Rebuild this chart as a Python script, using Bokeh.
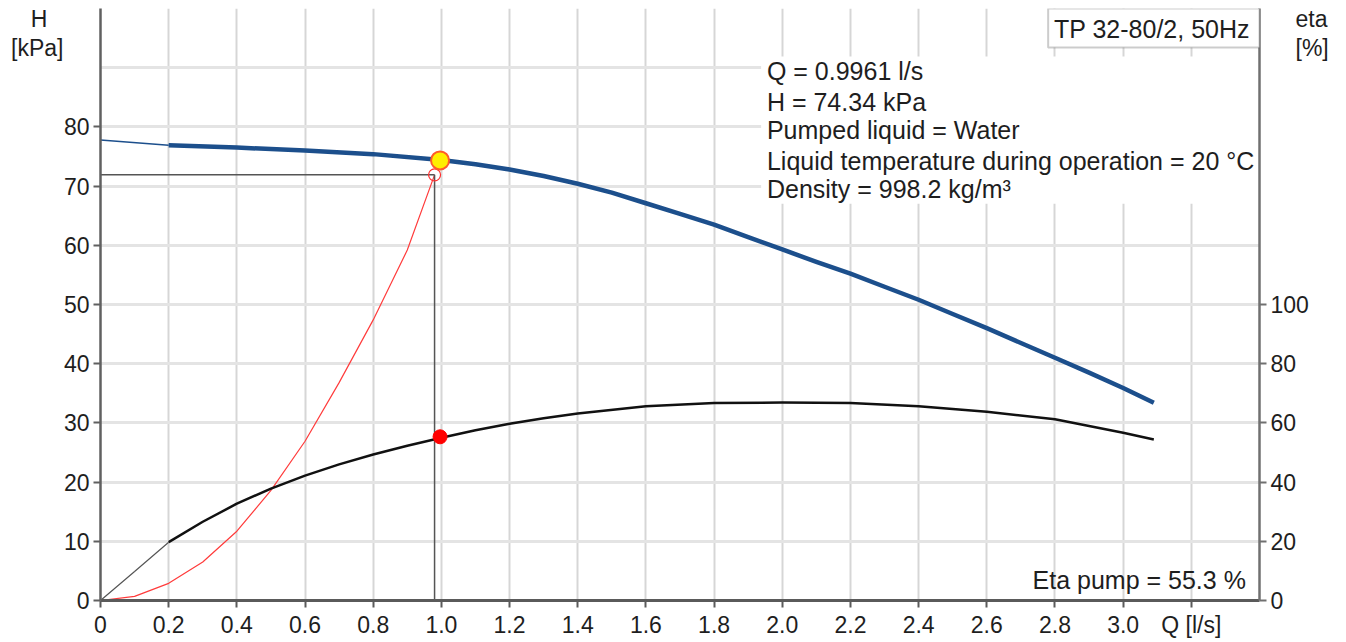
from bokeh.plotting import figure
from bokeh.models import (Range1d, LinearAxis, FixedTicker, Label, BoxAnnotation,
                          CustomJSTickFormatter)
from bokeh.embed import file_html
from bokeh.resources import INLINE

# ---------------- data ----------------
q_head = [0.0, 0.2, 0.4, 0.6, 0.8, 1.0, 1.1, 1.2, 1.3, 1.4, 1.5, 1.6, 1.7, 1.8, 1.9, 2.0,
          2.1, 2.2, 2.3, 2.4, 2.5, 2.6, 2.7, 2.8, 2.9, 3.0, 3.09]
h_head = [77.8, 76.9, 76.5, 76.0, 75.4, 74.4, 73.7, 72.8, 71.7, 70.4, 68.9, 67.1, 65.3, 63.5,
          61.4, 59.3, 57.2, 55.2, 53.0, 50.8, 48.4, 46.0, 43.5, 41.0, 38.5, 35.9, 33.4]

q_eta = [0.0, 0.1, 0.2, 0.3, 0.4, 0.5, 0.6, 0.7, 0.8, 0.9, 1.0, 1.1, 1.2, 1.3, 1.4,
         1.6, 1.8, 2.0, 2.2, 2.4, 2.6, 2.8, 3.0, 3.09]
eta_pump = [0.0, 9.8, 19.7, 26.6, 32.7, 37.8, 42.2, 46.0, 49.3, 52.3, 55.0, 57.5, 59.7, 61.6,
            63.2, 65.6, 66.7, 66.9, 66.7, 65.6, 63.8, 61.2, 56.7, 54.4]

q_system = [0.0, 0.1, 0.2, 0.3, 0.4, 0.5, 0.6, 0.7, 0.8, 0.9, 0.98]
h_system = [0.0, 0.7, 2.9, 6.5, 11.7, 18.6, 26.9, 36.8, 47.4, 59.2, 71.9]

duty_q = 0.9961
duty_h = 74.34
duty_eta = 55.3
sys_q = 0.98
sys_h = 71.9

x_ticks = [0.0, 0.2, 0.4, 0.6, 0.8, 1.0, 1.2, 1.4, 1.6, 1.8, 2.0, 2.2, 2.4, 2.6, 2.8, 3.0, 3.2]
h_ticks = [0, 10, 20, 30, 40, 50, 60, 70, 80]
h_grid = [0, 10, 20, 30, 40, 50, 60, 70, 80, 90, 100]
eta_ticks = [0, 20, 40, 60, 80, 100]

info_lines = ["Q = 0.9961 l/s", "H = 74.34 kPa", "Pumped liquid = Water",
              "Liquid temperature during operation = 20 \u00b0C", "Density = 998.2 kg/m\u00b3"]
title_text = "TP 32-80/2, 50Hz"
eta_text = "Eta pump = 55.3 %"

FONT = "Liberation Sans"
TXT = "#1e1e1e"

p = figure(width=1342, height=640, output_backend="svg", toolbar_location=None,
           x_range=Range1d(0, 3.4), y_range=Range1d(0, 100),
           min_border_left=100, min_border_right=83, min_border_top=8, min_border_bottom=38,
           outline_line_color=None, background_fill_color="white", border_fill_color="white")
p.extra_y_ranges = {"eta": Range1d(0, 200)}

# grids
p.xgrid.ticker = FixedTicker(ticks=x_ticks)
p.ygrid.ticker = FixedTicker(ticks=h_grid)
p.xgrid.grid_line_color = "#d6d6d6"
p.xgrid.grid_line_width = 2
p.ygrid.grid_line_color = "#e4e4e4"
p.ygrid.grid_line_width = 3

# axes
xa = p.xaxis[0]
xa.ticker = FixedTicker(ticks=x_ticks)
xa.formatter = CustomJSTickFormatter(code="""
if (tick > 3.1) return "Q [l/s]";
if (Math.abs(tick) < 1e-9) return "0";
return tick.toFixed(1);
""")
ya = p.yaxis[0]
ya.ticker = FixedTicker(ticks=h_ticks)
ra = LinearAxis(y_range_name="eta", ticker=FixedTicker(ticks=eta_ticks))
p.add_layout(ra, "right")

for ax, col, w in ((xa, "#5a5a5a", 3), (ya, "#606060", 2.5), (ra, "#707070", 2.5)):
    ax.axis_line_color = col
    ax.axis_line_width = w
    ax.major_tick_line_color = col
    ax.major_tick_line_width = 2
    ax.major_tick_out = 7
    ax.major_tick_in = 0
    ax.minor_tick_line_color = None
    ax.major_label_text_font = FONT
    ax.major_label_text_font_size = "23px"
    ax.major_label_text_color = TXT
    ax.major_label_standoff = 4

# unit captions as label-only axes stacked outside the value axes
ya_unit = LinearAxis(ticker=FixedTicker(ticks=[93.3, 98.2]),
                     formatter=CustomJSTickFormatter(
                         code='return tick > 96 ? "H\\u2002\\u2009" : "[kPa]";'))
ra_unit = LinearAxis(y_range_name="eta", ticker=FixedTicker(ticks=[186.6, 196.4]),
                     formatter=CustomJSTickFormatter(
                         code='return tick > 191 ? "eta" : "[%]";'))
for ax in (ya_unit, ra_unit):
    ax.axis_line_color = None
    ax.major_tick_line_color = None
    ax.minor_tick_line_color = None
    ax.major_tick_out = 0
    ax.major_tick_in = 0
    ax.major_label_text_font = FONT
    ax.major_label_text_font_size = "23px"
    ax.major_label_text_color = TXT
ra_unit.major_label_text_align = "center"
ya_unit.major_label_standoff = -3
ra_unit.major_label_standoff = -16
p.add_layout(ya_unit, "left")
p.add_layout(ra_unit, "right")

# info box background and title box
p.add_layout(BoxAnnotation(left=1.938, right=3.4, bottom=67.0, top=91.9,
                           fill_color="white", fill_alpha=1.0, line_color=None, level="underlay"))
p.add_layout(BoxAnnotation(left=2.78, right=3.4, bottom=93.4, top=100,
                           fill_color="white", fill_alpha=1.0, line_color="#555555",
                           line_width=2))

# system curve (red)
p.line(q_system, h_system, line_color="#ff3b3b", line_width=1.2)

# operating lines
p.line([0, sys_q], [sys_h, sys_h], line_color="#555555", line_width=1.5)
p.line([sys_q, sys_q], [0, sys_h], line_color="#555555", line_width=1.5)

# pump curve H
p.line(q_head[:2], h_head[:2], line_color="#1c4f8c", line_width=1.5)
p.line(q_head[1:], h_head[1:], line_color="#1c4f8c", line_width=4.5, line_join="round")

# efficiency curve
p.line(q_eta[:3], eta_pump[:3], line_color="#555555", line_width=1.2, y_range_name="eta")
p.line(q_eta[2:], eta_pump[2:], line_color="#111111", line_width=2.5, y_range_name="eta",
       line_join="round")

# markers
p.scatter([sys_q], [sys_h], size=12, fill_color=None, line_color="#ff3030", line_width=1.2)
p.scatter([duty_q], [duty_h], size=18, fill_color="#ffee00", line_color="#ff5a2a", line_width=2)
p.scatter([duty_q], [duty_eta], size=14, fill_color="#ff0000", line_color="#ff0000",
          y_range_name="eta")

# texts
def lab(x, y, t, align="left", size="25px"):
    p.add_layout(Label(x=x, y=y, text=t, text_font=FONT, text_font_size=size,
                       text_color=TXT, text_align=align, text_baseline="middle"))

info_y = [89.4, 84.2, 79.4, 74.3, 69.5]
for t, yy in zip(info_lines, info_y):
    lab(1.955, yy, t)

lab(3.372, 96.6, title_text, align="right")
lab(3.36, 3.5, eta_text, align="right")

open("out.html", "w").write(file_html(p, INLINE))
